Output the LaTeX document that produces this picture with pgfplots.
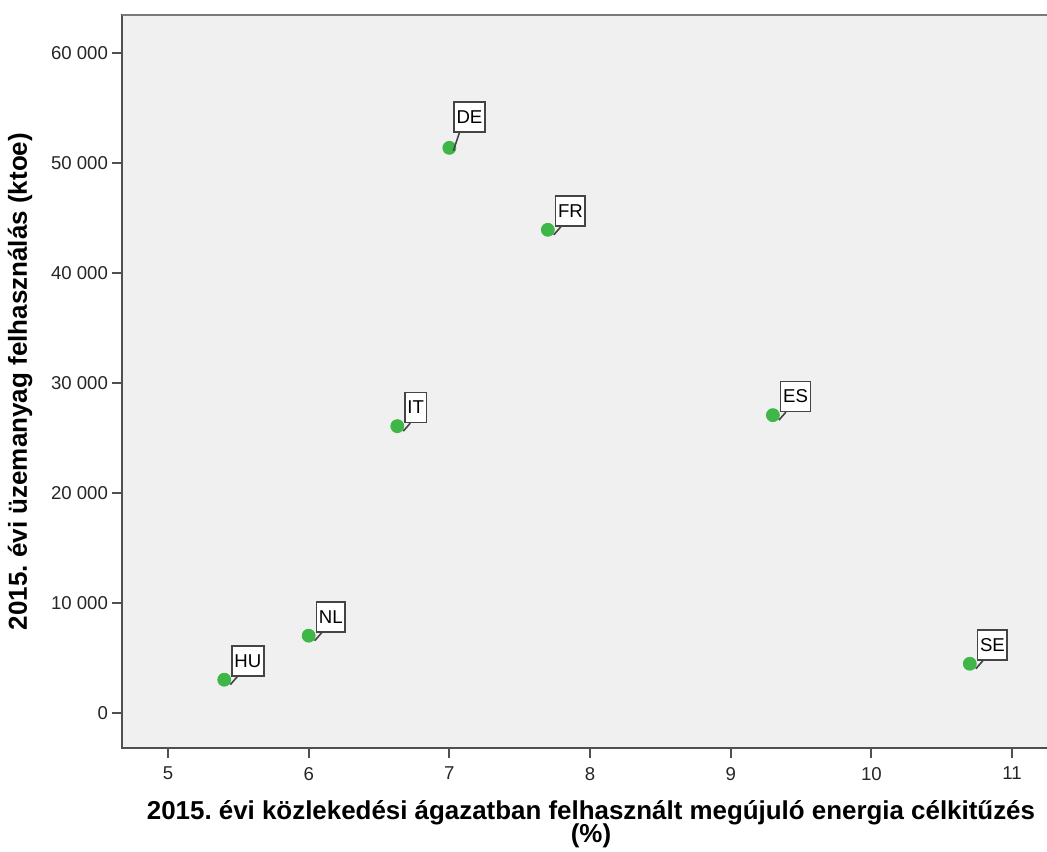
\documentclass[border=0pt]{standalone}
\usepackage{pgfplots}
\pgfplotsset{compat=1.18}
\usepackage{fontspec}
\setmainfont{Liberation Sans}
\frenchspacing

\definecolor{bg}{HTML}{F0F0F0}
\definecolor{frame}{HTML}{505050}
\definecolor{topframe}{HTML}{7A7A7A}
\definecolor{boxgray}{HTML}{444444}
\definecolor{dot}{RGB}{62,183,72}

% label box with a short tail pointing back to the point
\tikzset{
  callout/.style n args={4}{
    font=\fontsize{9.3}{10}\selectfont, text=black,
    draw=boxgray, line width=0.8pt, fill=white,
    anchor=south west, xshift=#1, yshift=#2,
    minimum height=15pt, inner xsep=1.2pt, inner ysep=0pt,
    append after command={([xshift=3pt]\tikzlastnode.south west) edge[draw=boxgray, line width=0.8pt] ++(#3,#4)}
  }
}

\begin{document}
\begin{tikzpicture}
\begin{axis}[
  name=ax,
  scale only axis,
  width=469pt, height=366.5pt,
  xmin=4.673, xmax=11.341,
  ymin=-3209, ymax=63427,
  axis background/.style={fill=bg},
  axis line style={draw=frame, line width=1pt},
  tick pos=left,
  tick align=outside,
  major tick length=5pt,
  every tick/.style={draw=frame, line width=1pt},
  xtick={5,6,7,8,9,10,11},
  xticklabels={5,6,7,8,9,10,11},
  ytick={0,10000,20000,30000,40000,50000,60000},
  yticklabels={0,10 000,20 000,30 000,40 000,50 000,60 000},
  ticklabel style={font=\fontsize{9.3}{10}\selectfont, text=black!85},
  yticklabel style={xshift=1.5pt},
  xticklabel style={yshift=-1pt},
  xlabel={2015. évi közlekedési ágazatban felhasznált megújuló energia célkitűzés\\[-1.6pt](\%)},
  ylabel={2015. évi üzemanyag felhasználás (ktoe)},
  every axis x label/.style={at={(axis description cs:0.5,-0.1044)}, anchor=center,
    align=center, font=\bfseries\fontsize{12.95}{12}\selectfont},
  every axis y label/.style={at={(axis description cs:-0.1087,0.5)}, anchor=center,
    rotate=90, font=\bfseries\fontsize{13}{14}\selectfont},
  after end axis/.code={
    \draw[topframe, line width=1.2pt] (axis description cs:0,1) -- (axis description cs:1,1);
  },
  clip=false,
]
\addplot[only marks, mark=*, mark size=3.25pt, mark options={draw=dot, fill=dot},
  point meta=explicit symbolic, nodes near coords,
  every node near coord/.style={callout={3.5pt}{1.5pt}{-3.5pt}{-4pt}}]
table[meta=label] {
x y label
5.40 3000 HU
6.00 7000 NL
6.63 26050 IT
7.70 43900 FR
9.30 27050 ES
10.70 4450 SE
};
\addplot[only marks, mark=*, mark size=3.25pt, mark options={draw=dot, fill=dot},
  point meta=explicit symbolic, nodes near coords,
  every node near coord/.style={callout={2pt}{7.5pt}{-3pt}{-9pt}}]
table[meta=label] {
x y label
7.00 51350 DE
};
\end{axis}
\pgfresetboundingbox
\path ([xshift=-61pt,yshift=-51.5pt]ax.south west) rectangle ([xshift=462.5pt,yshift=7.5pt]ax.north west);
\end{tikzpicture}
\end{document}
